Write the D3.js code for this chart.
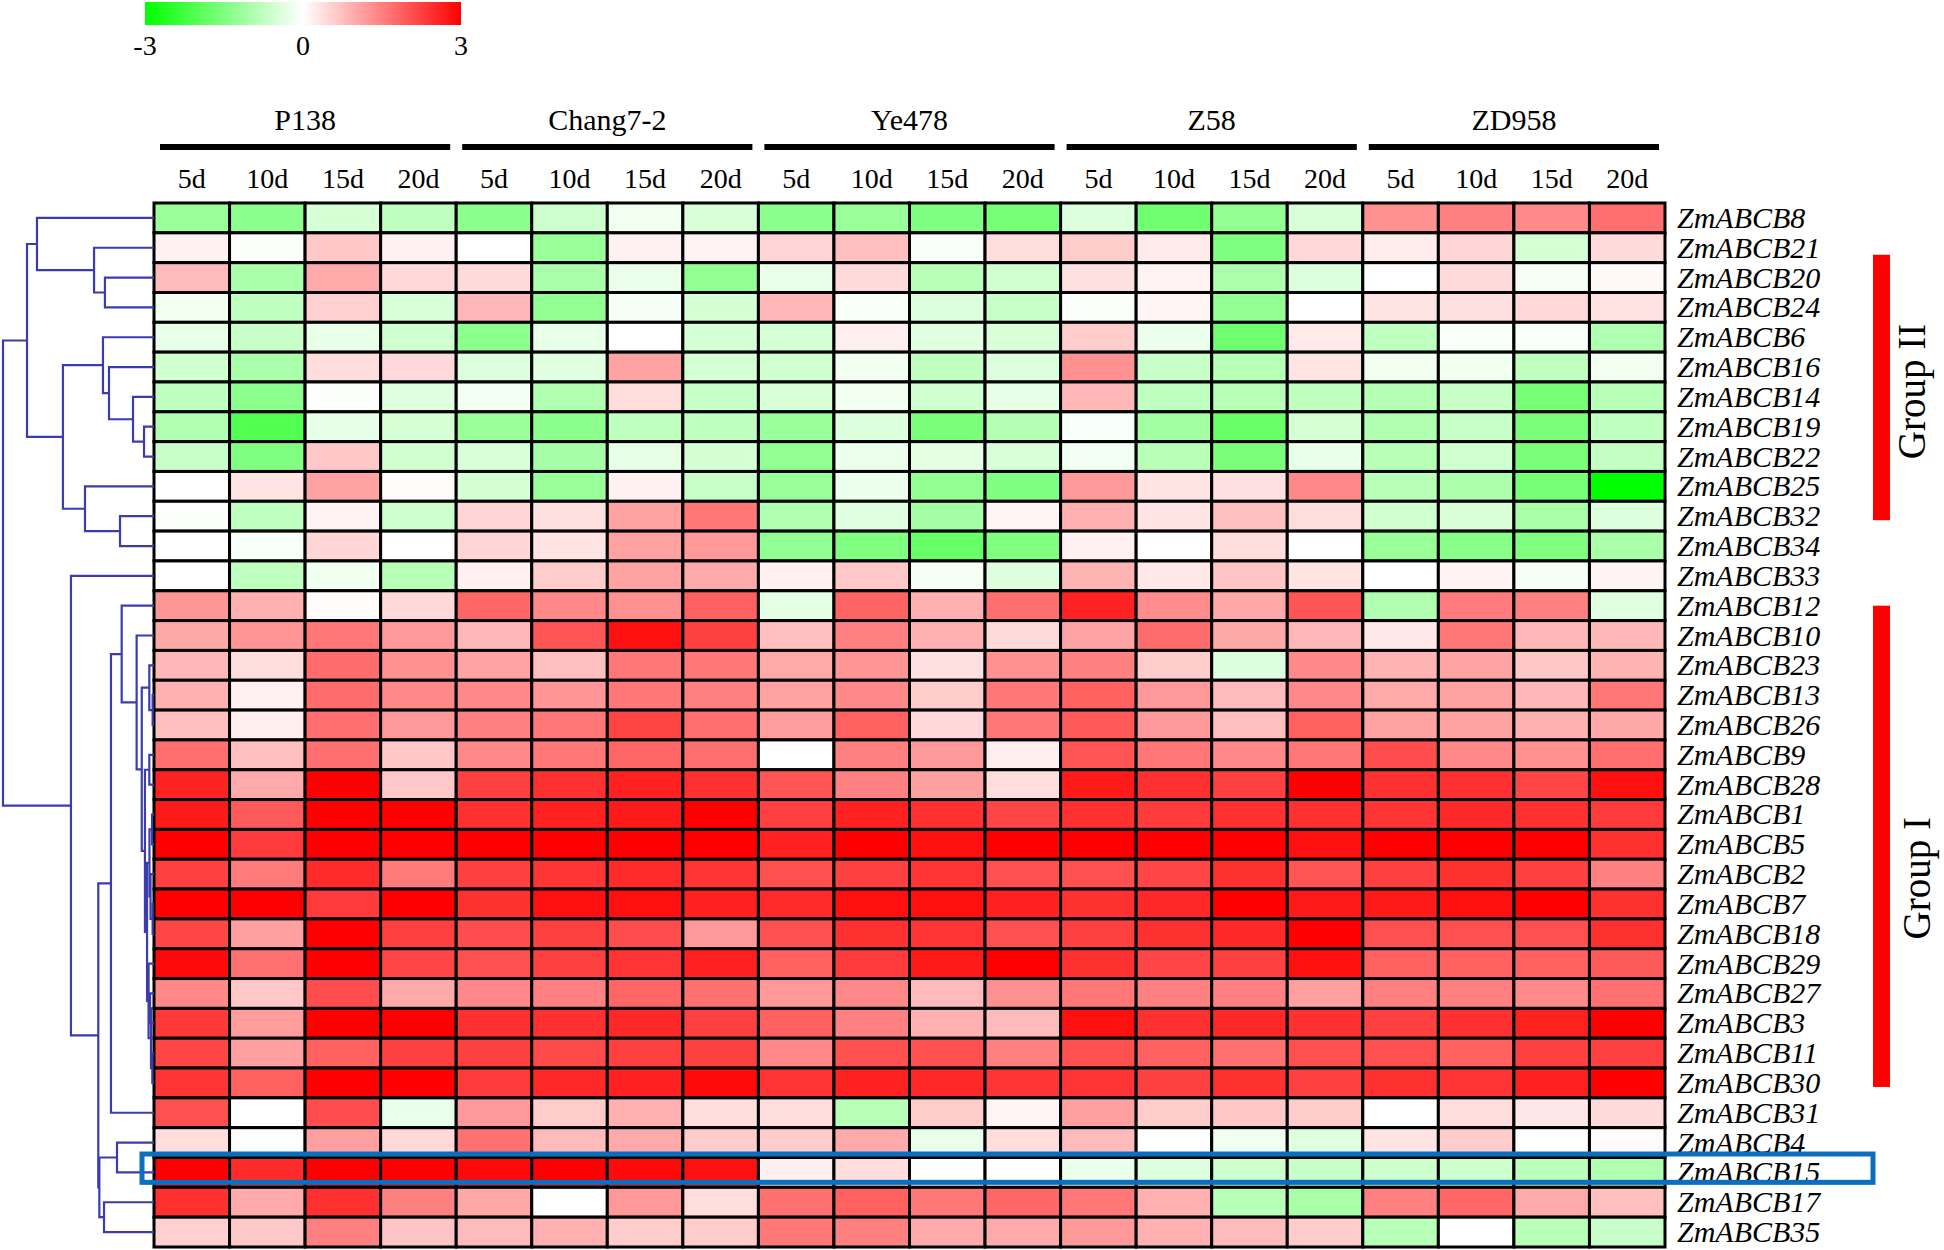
<!DOCTYPE html>
<html><head><meta charset="utf-8">
<script src="https://cdn.jsdelivr.net/npm/d3@7"></script>
<style>
body{margin:0;background:#fff;}
svg{display:block;}
text{font-family:"Liberation Serif","Times New Roman",serif;fill:#000;}
</style>
</head><body>
<svg id="chart" width="1944" height="1250"></svg>
<script>
// ---------------- DATA ----------------
const cultivars = ["P138", "Chang7-2", "Ye478", "Z58", "ZD958"];
const stages = ["5d", "10d", "15d", "20d"];
const genes = ["ZmABCB8","ZmABCB21","ZmABCB20","ZmABCB24","ZmABCB6","ZmABCB16","ZmABCB14","ZmABCB19","ZmABCB22","ZmABCB25","ZmABCB32","ZmABCB34","ZmABCB33","ZmABCB12","ZmABCB10","ZmABCB23","ZmABCB13","ZmABCB26","ZmABCB9","ZmABCB28","ZmABCB1","ZmABCB5","ZmABCB2","ZmABCB7","ZmABCB18","ZmABCB29","ZmABCB27","ZmABCB3","ZmABCB11","ZmABCB30","ZmABCB31","ZmABCB4","ZmABCB15","ZmABCB17","ZmABCB35"];
// log2 expression, one row per gene, columns = cultivar x stage
const values = [
 [-1.2,-1.35,-0.5,-0.75, -1.35,-0.6,-0.17,-0.45, -1.35,-1.2,-1.5,-1.6, -0.4,-1.68,-1.3,-0.45, 1.3,1.5,1.38,1.7],
 [0.17,-0.03,0.65,0.17, 0,-1.2,0.17,0.15, 0.5,0.75,-0.08,0.4, 0.6,0.25,-1.5,0.45, 0.22,0.5,-0.5,0.43],
 [0.8,-1.0,1.0,0.45, 0.43,-1.0,-0.25,-1.3, -0.27,0.43,-0.83,-0.55, 0.37,0.15,-0.97,-0.4, 0,0.43,-0.12,0.08],
 [-0.17,-0.75,0.55,-0.45, 0.85,-1.3,-0.12,-0.5, 0.85,-0.08,-0.4,-0.65, -0.05,0.12,-1.3,0, 0.32,0.37,0.45,0.35],
 [-0.27,-0.65,-0.27,-0.55, -1.35,-0.27,0,-0.5, -0.5,0.2,-0.37,-0.45, 0.6,-0.22,-1.68,0.25, -0.75,-0.08,-0.08,-0.93],
 [-0.55,-1.0,0.4,0.45, -0.4,-0.37,1.1,-0.5, -0.55,-0.17,-0.75,-0.4, 1.3,-0.65,-0.83,0.32, -0.17,-0.17,-0.75,-0.17],
 [-0.75,-1.35,-0.03,-0.37, -0.15,-0.93,0.4,-0.65, -0.45,-0.17,-0.55,-0.3, 0.83,-0.75,-0.83,-0.75, -0.88,-0.65,-1.6,-0.83],
 [-0.93,-2.05,-0.3,-0.5, -1.2,-1.35,-0.75,-0.75, -1.2,-0.4,-1.55,-0.88, -0.08,-1.1,-1.8,-0.5, -0.93,-0.65,-1.55,-0.75],
 [-0.65,-1.5,0.65,-0.55, -0.45,-1.05,-0.3,-0.5, -1.3,-0.22,-0.32,-0.45, -0.15,-0.83,-1.55,-0.27, -0.83,-0.55,-1.55,-0.7],
 [0,0.32,1.1,0.03, -0.5,-1.2,0.17,-0.65, -1.2,-0.22,-1.3,-1.5, 1.2,0.32,0.37,1.4, -0.83,-0.97,-1.6,-3.0],
 [-0.02,-0.75,0.15,-0.6, 0.5,0.37,1.1,1.6, -0.93,-0.37,-1.07,0.12, 0.93,0.32,0.75,0.4, -0.55,-0.45,-1.02,-0.4],
 [0,-0.08,0.5,0, 0.5,0.32,1.1,1.2, -1.3,-1.5,-1.8,-1.5, 0.17,0,0.4,0, -1.2,-1.4,-1.5,-1.02],
 [0,-0.75,-0.17,-0.83, 0.17,0.6,1.1,1.0, 0.17,0.65,-0.12,-0.4, 0.88,0.27,0.7,0.32, 0,0.15,-0.12,0.13],
 [1.23,0.93,0.05,0.45, 1.8,1.4,1.3,1.87, -0.32,1.82,0.93,1.7, 2.6,1.35,1.02,2.0, -0.93,1.55,1.5,-0.37],
 [1.02,1.25,1.6,1.2, 0.83,2.0,2.8,2.25, 0.75,1.5,0.93,0.43, 1.07,1.73,1.02,0.83, 0.27,1.6,0.83,0.83],
 [0.83,0.4,1.73,1.3, 1.07,0.75,1.6,1.6, 1.0,1.25,0.37,1.3, 1.5,0.6,-0.4,1.4, 0.88,1.07,0.65,0.88],
 [0.93,0.17,1.73,1.4, 1.4,1.25,1.6,1.5, 1.1,1.4,0.6,1.6, 1.87,1.2,0.8,1.4, 1.0,1.1,0.83,1.6],
 [0.75,0.2,1.7,1.2, 1.5,1.6,2.2,1.7, 1.15,1.87,0.45,1.6, 1.95,1.2,0.75,1.87, 1.1,1.1,0.93,1.02],
 [1.7,0.75,1.7,0.65, 1.4,1.6,1.8,1.7, 0,1.5,1.2,0.2, 2.0,1.6,1.4,1.6, 2.1,1.4,1.3,1.7],
 [2.6,1.0,3.0,0.65, 2.25,2.44,2.62,2.44, 2.0,1.5,1.12,0.4, 2.69,2.44,2.25,3.0, 2.44,2.44,2.19,2.81],
 [2.69,1.94,3.0,3.0, 2.44,2.62,2.69,3.0, 2.25,2.62,2.44,2.19, 2.44,2.32,2.44,2.44, 2.38,2.53,2.44,2.32],
 [3.0,2.32,3.0,3.0, 3.0,3.0,3.0,3.0, 2.62,3.0,2.81,3.0, 3.0,3.0,3.0,2.81, 3.0,3.0,3.0,2.44],
 [2.25,1.56,2.5,1.56, 2.25,2.38,2.5,2.38, 2.06,2.25,2.38,2.06, 2.06,2.19,2.44,2.0, 2.25,2.44,2.25,1.5],
 [3.0,3.0,2.32,3.0, 2.44,2.81,2.81,2.62, 2.5,2.81,2.81,2.62, 2.44,2.53,3.0,2.69, 2.69,2.81,3.0,2.44],
 [2.19,1.12,3.0,2.25, 2.09,2.25,2.09,1.2, 2.06,2.44,2.38,2.06, 2.25,2.44,2.53,3.0, 2.06,2.06,2.06,2.44],
 [2.88,1.68,3.0,2.19, 2.06,2.25,2.38,2.62, 1.87,2.32,2.69,3.0, 2.44,2.19,2.25,2.81, 1.87,1.87,1.87,1.94],
 [1.4,0.65,2.09,1.0, 1.4,1.5,1.8,1.68, 1.2,1.4,0.8,1.31, 1.6,1.5,1.5,1.12, 1.5,1.5,1.38,1.68],
 [2.34,1.16,3.0,3.0, 2.44,2.44,2.53,2.25, 1.87,1.5,0.93,0.8, 2.81,2.44,2.53,2.44, 2.25,2.44,2.62,3.0],
 [2.19,1.12,1.87,2.25, 2.25,2.13,2.25,2.25, 1.4,2.06,2.06,1.5, 2.06,1.87,1.68,2.06, 2.06,1.87,2.25,2.25],
 [2.38,1.87,3.0,3.0, 2.32,2.53,2.62,2.88, 2.38,2.62,2.53,2.38, 2.38,2.25,2.44,2.25, 2.44,2.38,2.62,3.0],
 [2.06,0,2.09,-0.25, 1.2,0.6,0.93,0.4, 0.4,-0.83,0.6,0.12, 1.12,0.6,0.65,0.6, 0,0.4,0.28,0.43],
 [0.4,-0.03,1.12,0.46, 1.68,0.8,1.0,0.6, 0.6,1.0,-0.25,0.4, 0.8,0,-0.18,-0.38, 0.32,0.6,0,0.05],
 [3.0,2.5,3.0,3.0, 2.88,3.0,2.88,2.81, 0.2,0.4,0,0, -0.25,-0.4,-0.6,-0.65, -0.6,-0.6,-0.79,-0.93],
 [2.44,1.0,2.44,1.5, 1.02,0,1.2,0.4, 1.68,1.87,1.6,1.8, 1.6,0.93,-0.84,-1.02, 1.5,1.8,1.0,0.75],
 [0.55,0.65,1.5,0.69, 0.8,0.93,0.6,0.6, 1.6,1.5,1.0,1.0, 1.2,0.93,0.8,0.6, -0.84,0,-0.84,-0.65]
];
const legendTicks = [-3, 0, 3];
// hierarchical clustering: [node id, child a, child b, merge distance (0..1)]
const merges = [
 ["n20_24","ZmABCB20","ZmABCB24",0.325],
 ["n21","ZmABCB21","n20_24",0.397],
 ["n8","ZmABCB8","n21",0.775],
 ["n19_22","ZmABCB19","ZmABCB22",0.066],
 ["n14","ZmABCB14","n19_22",0.139],
 ["n16","ZmABCB16","n14",0.298],
 ["n6","ZmABCB6","n16",0.338],
 ["n32_34","ZmABCB32","ZmABCB34",0.225],
 ["n25","ZmABCB25","n32_34",0.457],
 ["nB","n6","n25",0.603],
 ["nII","n8","nB",0.841],
 ["n13_26","ZmABCB13","ZmABCB26",0.009],
 ["n23","ZmABCB23","n13_26",0.031],
 ["n9_28","ZmABCB9","ZmABCB28",0.031],
 ["n1_5","ZmABCB1","ZmABCB5",0.013],
 ["n7_18","ZmABCB7","ZmABCB18",0.009],
 ["n2","ZmABCB2","n7_18",0.023],
 ["nA","n1_5","n2",0.030],
 ["n27_3","ZmABCB27","ZmABCB3",0.026],
 ["n11_30","ZmABCB11","ZmABCB30",0.011],
 ["n27_30","n27_3","n11_30",0.020],
 ["n29","ZmABCB29","n27_30",0.036],
 ["nQ","nA","n29",0.046],
 ["nRed","n9_28","nQ",0.060],
 ["nI3","n23","nRed",0.081],
 ["nI2","ZmABCB10","nI3",0.115],
 ["nI","ZmABCB12","nI2",0.214],
 ["nY","nI","ZmABCB31",0.285],
 ["n4_15","ZmABCB4","ZmABCB15",0.245],
 ["n17_35","ZmABCB17","ZmABCB35",0.331],
 ["nZ","n4_15","n17_35",0.362],
 ["nX","nY","nZ",0.369],
 ["nRest","ZmABCB33","nX",0.550],
 ["root","nII","nRest",1.0]
];
const geneGroups = [
 {label:"Group II", first:"ZmABCB21", last:"ZmABCB32"},
 {label:"Group I", first:"ZmABCB12", last:"ZmABCB30"}
];
const highlightGene = "ZmABCB15";

// ---------------- LAYOUT ----------------
const svg = d3.select("#chart");
const columns = [];
cultivars.forEach(c => stages.forEach(s => columns.push(c + "|" + s)));

const x = d3.scaleBand().domain(columns).range([154, 1665]);
const y = d3.scaleBand().domain(genes).range([203, 1247]);
const xg = d3.scaleBand().domain(cultivars).range([154, 1665]);
const color = d3.scaleLinear().domain([-3, 0, 3]).range(["#00ff00", "#ffffff", "#ff0000"]);
const dx = d3.scaleLinear().domain([0, 1]).range([154, 3]);

// ---- legend ----
const lx = d3.scaleLinear().domain([-3, 3]).range([145, 461]);
const defs = svg.append("defs");
const grad = defs.append("linearGradient").attr("id", "lg").attr("x1", "0%").attr("x2", "100%");
d3.range(0, 1.0001, 0.05).forEach(t => {
  grad.append("stop").attr("offset", (t * 100) + "%").attr("stop-color", color(-3 + 6 * t));
});
svg.append("rect").attr("x", lx(-3)).attr("y", 2).attr("width", lx(3) - lx(-3)).attr("height", 23)
  .attr("fill", "url(#lg)");
svg.append("g").selectAll("text").data(legendTicks).join("text")
  .attr("x", d => lx(d)).attr("y", 55).attr("text-anchor", "middle")
  .style("font-size", "28px").text(d => d);

// ---- cultivar headers ----
const head = svg.append("g");
head.selectAll("text.cv").data(cultivars).join("text").attr("class", "cv")
  .attr("x", d => xg(d) + xg.bandwidth() / 2).attr("y", 130)
  .attr("text-anchor", "middle").style("font-size", "30px").text(d => d);
head.selectAll("line.cvbar").data(cultivars).join("line").attr("class", "cvbar")
  .attr("x1", d => xg(d) + 6).attr("x2", d => xg(d) + xg.bandwidth() - 6)
  .attr("y1", 147).attr("y2", 147).attr("stroke", "#000").attr("stroke-width", 6);
head.selectAll("text.st").data(columns).join("text").attr("class", "st")
  .attr("x", d => x(d) + x.bandwidth() / 2).attr("y", 188)
  .attr("text-anchor", "middle").style("font-size", "28px").text(d => d.split("|")[1]);

// ---- heatmap cells ----
const cells = [];
genes.forEach((g, i) => columns.forEach((c, j) => cells.push({g, c, v: values[i][j]})));
svg.append("g").selectAll("rect").data(cells).join("rect")
  .attr("x", d => x(d.c)).attr("y", d => y(d.g))
  .attr("width", x.bandwidth()).attr("height", y.bandwidth())
  .attr("fill", d => color(d.v)).attr("stroke", "#000").attr("stroke-width", 3);

// ---- row labels ----
svg.append("g").selectAll("text").data(genes).join("text")
  .attr("x", 1677).attr("y", d => y(d) + y.bandwidth() / 2 + 10)
  .style("font-size", "30px").style("font-style", "italic").text(d => d);

// ---- dendrogram ----
const pos = new Map();
genes.forEach(g => pos.set(g, {x: dx(0), y: y(g) + y.bandwidth() / 2}));
const dg = svg.append("g").attr("fill", "none").attr("stroke", "#3c3cae").attr("stroke-width", 2.2);
merges.forEach(([id, a, b, h]) => {
  const A = pos.get(a), B = pos.get(b), xn = dx(h);
  pos.set(id, {x: xn, y: (A.y + B.y) / 2});
  dg.append("path").attr("d", `M${A.x},${A.y}H${xn}V${B.y}H${B.x}`);
});

// ---- group bars ----
geneGroups.forEach((gr, i) => {
  const y1 = y(gr.first) + y.bandwidth() / 2 + (i === 0 ? 7 : 0);
  const y2 = y(gr.last) + y.bandwidth() / 2 + 4;
  svg.append("rect").attr("x", 1873).attr("y", y1).attr("width", 17).attr("height", y2 - y1).attr("fill", "#ff0000");
  const cy = (y1 + y2) / 2 + (i === 0 ? 4 : 32);
  svg.append("text").attr("transform", `translate(${i === 0 ? 1925 : 1930},${cy}) rotate(-90)`)
    .attr("text-anchor", "middle").style("font-size", "39px").text(gr.label);
});

// ---- highlight box ----
svg.append("rect").attr("x", 142).attr("y", y(highlightGene) - 3.5)
  .attr("width", 1873 - 142).attr("height", y.bandwidth() - 1.5)
  .attr("fill", "none").attr("stroke", "#0b6fc1").attr("stroke-width", 5);
</script>
</body></html>
